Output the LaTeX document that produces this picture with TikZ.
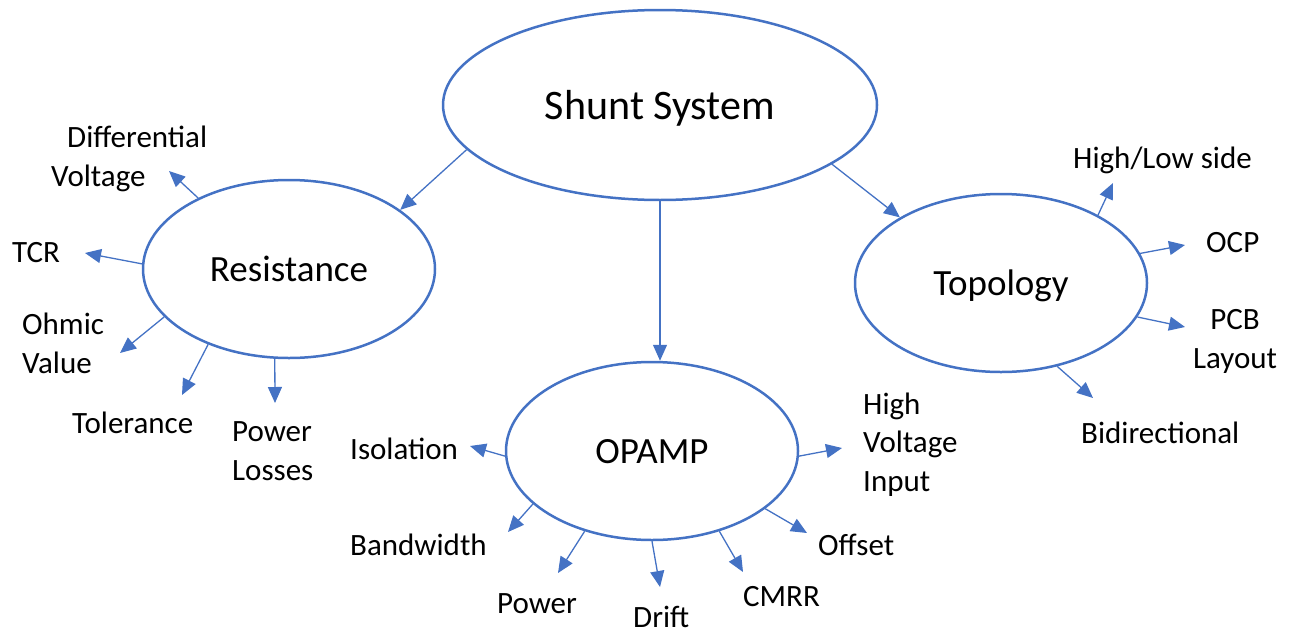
\documentclass[tikz,border=0pt]{standalone}
\usepackage{fontspec}
\setmainfont{Carlito}
\usetikzlibrary{shapes.geometric,arrows.meta}
\definecolor{lineblue}{HTML}{4472C4}

\begin{document}
\begin{tikzpicture}[x=1pt,y=-1pt,
    topic/.style={ellipse,draw=lineblue,line width=2.5pt,inner sep=0pt,
      minimum width=292pt,minimum height=178pt,text depth=0pt,
      font=\fontsize{37}{44}\selectfont},
    leaf/.style={anchor=base west,inner sep=0pt,align=left,
      font=\fontsize{31}{38.5}\selectfont},
    link/.style={draw=lineblue,line width=1.3pt,
      -{Triangle[length=16pt,width=14pt]}}]
    \useasboundingbox (0,0) rectangle (1292,632);

    % main bubbles
    \node[topic,minimum width=434pt,minimum height=190pt,
      font=\fontsize{42}{50}\selectfont] (shunt) at (660,105) {Shunt System};
    \node[topic] (res) at (289,269) {Resistance};
    \node[topic] (opamp) at (652,451) {OPAMP};
    \node[topic] (topo) at (1001,283) {Topology};

    \draw[link] (shunt.193.8) -- (res.28.4);
    \draw[link] (shunt.south) -- (shunt.south |- opamp.north);
    \draw[link] (shunt.341.7) -- (topo.147.5);

    % resistance (base of a multi-line leaf is its last line)
    \node[leaf] (dv) at (51,186) {\hspace*{16pt}Differential\\Voltage};
    \node[leaf] (tcr) at (12,262) {TCR};
    \node[leaf] (ohm) at (22,373) {Ohmic\\Value};
    \node[leaf] (tol) at (72,433) {Tolerance};
    \node[leaf] (ploss) at (232,480) {Power\\Losses};
    \coordinate (dvtip) at (169,171);
    \coordinate (tcrtip) at (85,253);
    \coordinate (ohmtip) at (120,353);
    \coordinate (toltip) at (182,395);
    \coordinate (plosstip) at (275,403);
    \draw[link] (res.142.7) -- (dvtip);
    \draw[link] (res.178.8) -- (tcrtip);
    \draw[link] (res.201.3) -- (ohmtip);
    \draw[link] (res.223.9) -- (toltip);
    \draw[link] (res.261) -- (plosstip);

    % opamp
    \node[leaf] (iso) at (350,459) {Isolation};
    \node[leaf] (bw) at (350,555) {Bandwidth};
    \node[leaf] (pw) at (497,613) {Power};
    \node[leaf] (drift) at (633,627) {Drift};
    \node[leaf] (cmrr) at (743,606) {CMRR};
    \node[leaf] (offs) at (818,555) {Offset};
    \node[leaf] (hvi) at (863,491) {High\\Voltage\\Input};
    \coordinate (isotip) at (470,446);
    \coordinate (bwtip) at (508,532);
    \coordinate (pwtip) at (558,573);
    \coordinate (drifttip) at (660,587);
    \coordinate (cmrrtip) at (743,572);
    \coordinate (offstip) at (807,533);
    \coordinate (hvitip) at (842,448);
    \draw[link] (opamp.182.8) -- (isotip);
    \draw[link] (opamp.204.8) -- (bwtip);
    \draw[link] (opamp.230.4) -- (pwtip);
    \draw[link] (opamp.270) -- (drifttip);
    \draw[link] (opamp.310.8) -- (cmrrtip);
    \draw[link] (opamp.333.8) -- (offstip);
    \draw[link] (opamp.358) -- (hvitip);

    % topology
    \node[leaf] (hl) at (1073,168) {High/Low side};
    \node[leaf] (ocp) at (1206,252) {OCP};
    \node[leaf,anchor=base,align=center] (pcb) at (1235,368) {PCB\\Layout};
    \node[leaf] (bidir) at (1081,443) {Bidirectional};
    \coordinate (hltip) at (1113,183);
    \coordinate (ocptip) at (1185,245);
    \coordinate (pcbtip) at (1185,327);
    \coordinate (bidirtip) at (1093,398);
    \draw[link] (topo.35) -- (hltip);
    \draw[link] (topo.12.6) -- (ocptip);
    \draw[link] (topo.346) -- (pcbtip);
    \draw[link] (topo.304.5) -- (bidirtip);
\end{tikzpicture}
\end{document}
